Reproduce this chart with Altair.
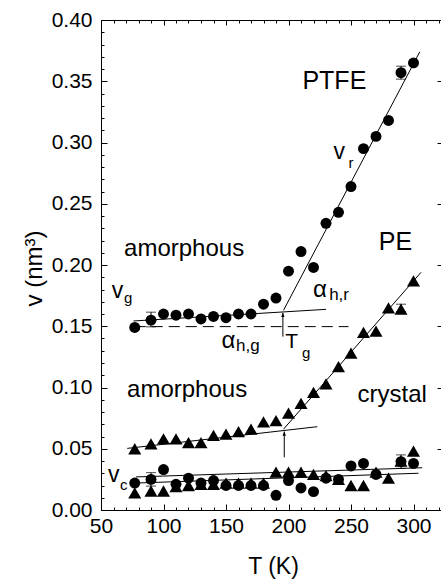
import altair as alt
import pandas as pd

F = "Liberation Sans"

# ---------------- data ----------------
T_PTFE = [77, 90, 100, 110, 120, 130, 140, 150, 160, 170, 180, 190, 200, 210, 220, 230, 240, 250, 260, 270, 280, 290, 300]
V_PTFE = [0.149, 0.155, 0.160, 0.159, 0.160, 0.156, 0.158, 0.157, 0.160, 0.160, 0.168, 0.173, 0.195, 0.211,
          0.198, 0.234, 0.243, 0.264, 0.295, 0.305, 0.318, 0.357, 0.365]

T_PE = [77, 90, 100, 110, 120, 130, 140, 150, 160, 170, 180, 190, 200, 210, 220, 230, 240, 250, 260, 270, 280, 290, 300]
V_PE = [0.050, 0.054, 0.058, 0.058, 0.055, 0.055, 0.061, 0.062, 0.064, 0.066, 0.072, 0.073, 0.079, 0.087,
        0.096, 0.103, 0.117, 0.128, 0.145, 0.146, 0.165, 0.164, 0.187]

T_CR_C = [77, 90, 100, 110, 120, 130, 140, 150, 160, 170, 180, 190, 200, 210, 220, 230, 240, 250, 260, 270, 290, 300]
V_CR_C = [0.022, 0.025, 0.033, 0.021, 0.026, 0.022, 0.024, 0.020, 0.020, 0.020, 0.020, 0.012, 0.024, 0.018,
          0.015, 0.026, 0.025, 0.036, 0.038, 0.029, 0.0395, 0.038]

T_CR_T = [77, 90, 100, 110, 120, 130, 140, 150, 160, 170, 180, 190, 200, 210, 220, 230, 240, 250, 260, 270, 280, 290, 300]
V_CR_T = [0.014, 0.0155, 0.0155, 0.019, 0.020, 0.021, 0.021, 0.022, 0.022, 0.022, 0.022, 0.031, 0.031, 0.031,
          0.029, 0.028, 0.025, 0.020, 0.020, 0.031, 0.026, 0.040, 0.048]

# error bars
ERR_T = [90, 290, 90, 290, 290]
ERR_LO = [0.1495, 0.3517, 0.0195, 0.034, 0.162]
ERR_HI = [0.1615, 0.3623, 0.0305, 0.045, 0.168]

# fit lines (start / end)
FIT_T1 = [76, 196, 71, 196, 78, 78]
FIT_V1 = [0.1543, 0.163, 0.0503, 0.066, 0.027, 0.022]
FIT_T2 = [230, 305, 223, 306, 307, 304]
FIT_V2 = [0.1638, 0.374, 0.068, 0.194, 0.0345, 0.030]

# dashed reference line
DASH_T1 = [77]
DASH_T2 = [248]
DASH_V = [0.1497]

# Tg arrows
ARROW_T = [195.5, 196.6]
ARROW_V1 = [0.1415, 0.043]
ARROW_V2 = [0.161, 0.064]

# axis ticks
X_MAJOR = [50, 100, 150, 200, 250, 300]
X_MINOR = list(range(50, 330, 10))
Y_MAJOR = [0.0, 0.05, 0.10, 0.15, 0.20, 0.25, 0.30, 0.35, 0.40]
Y_MINOR = [round(i * 0.01, 2) for i in range(0, 41)]

# annotations
LBL_BIG = ["PTFE", "PE"]
LBL_BIG_T = [236.7, 285.6]
LBL_BIG_V = [0.3437, 0.2122]

LBL_MID = ["amorphous", "amorphous", "crystal"]
LBL_MID_T = [116.5, 118.9, 283.0]
LBL_MID_V = [0.2073, 0.0925, 0.0884]

LBL_V = ["v", "v", "v"]
LBL_V_T = [235.9, 58.6, 55.6]
LBL_V_V = [0.2865, 0.1733, 0.0231]

LBL_ALPHA = ["α", "α"]
LBL_ALPHA_T = [219.6, 146.4]
LBL_ALPHA_V = [0.1741, 0.1322]

LBL_SYM = ["T"]
LBL_SYM_T = [197.4]
LBL_SYM_V = [0.1322]

LBL_SUB = ["r", "g", "g", "c"]
LBL_SUB_T = [247.9, 68.4, 210.8, 65.2]
LBL_SUB_V = [0.2792, 0.169, 0.124, 0.0163]

LBL_SUB2 = ["h,r", "h,g"]
LBL_SUB2_T = [232.5, 158.0]
LBL_SUB2_V = [0.1714, 0.1298]

# ---------------- chart ----------------
xs = alt.Scale(domain=[50, 322], nice=False, zero=False)
ys = alt.Scale(domain=[0, 0.4], nice=False, zero=False)


def tick_axis(values, size, orient):
    return alt.Axis(values=values, labels=False, domain=False, grid=False, ticks=True,
                    tickSize=size, offset=-size, tickColor="black", tickWidth=1,
                    orient=orient, title=None)


main_x = alt.Axis(values=X_MAJOR, orient="bottom", labelFontSize=21, labelFont=F, labelColor="black",
                  ticks=False, tickSize=0, domain=False, grid=False, labelPadding=5, labelOverlap=False,
                  labelFlush=False,
                  title="T (K)", titleFontSize=23, titleFont=F, titleFontWeight="normal", titleColor="black",
                  titleBaseline="alphabetic", titleAlign="center", titleX=172, titleY=63)
main_y = alt.Axis(values=Y_MAJOR, orient="left", format=".2f", labelFontSize=21, labelFont=F,
                  labelColor="black", ticks=False, tickSize=0, domain=False, grid=False, labelPadding=9,
                  labelOverlap=False, labelFlush=False,
                  title="v (nm³)", titleFontSize=24, titleFont=F, titleFontWeight="normal", titleColor="black",
                  titleBaseline="alphabetic", titleAlign="center", titleAngle=270, titleX=-60, titleY=248)

df_ptfe = pd.DataFrame({"T": T_PTFE, "v": V_PTFE})
df_pe = pd.DataFrame({"T": T_PE, "v": V_PE})
df_crc = pd.DataFrame({"T": T_CR_C, "v": V_CR_C})
df_crt = pd.DataFrame({"T": T_CR_T, "v": V_CR_T})

ptfe = alt.Chart(df_ptfe).mark_point(shape="circle", filled=True, color="black", opacity=1, size=120).encode(
    x=alt.X("T:Q", scale=xs, axis=main_x), y=alt.Y("v:Q", scale=ys, axis=main_y))
pe = alt.Chart(df_pe).mark_point(shape="triangle-up", filled=True, color="black", opacity=1, size=170).encode(
    x=alt.X("T:Q", scale=xs, axis=tick_axis(X_MAJOR, 6, "bottom")),
    y=alt.Y("v:Q", scale=ys, axis=tick_axis(Y_MAJOR, 6, "left")))
crc = alt.Chart(df_crc).mark_point(shape="circle", filled=True, color="black", opacity=1, size=120).encode(
    x=alt.X("T:Q", scale=xs, axis=tick_axis(X_MINOR, 3, "bottom")),
    y=alt.Y("v:Q", scale=ys, axis=tick_axis(Y_MINOR, 3, "left")))
crt = alt.Chart(df_crt).mark_point(shape="triangle-up", filled=True, color="black", opacity=1, size=170).encode(
    x=alt.X("T:Q", scale=xs, axis=tick_axis(X_MAJOR, 5, "top")),
    y=alt.Y("v:Q", scale=ys, axis=tick_axis(Y_MAJOR, 4, "right")))

df_err = pd.DataFrame({"T": ERR_T, "lo": ERR_LO, "hi": ERR_HI})
err = alt.Chart(df_err).mark_rule(color="black", strokeWidth=1).encode(
    x=alt.X("T:Q", scale=xs, axis=tick_axis(X_MINOR, 3, "top")),
    y=alt.Y("lo:Q", scale=ys, axis=None), y2="hi:Q")
df_caps = pd.DataFrame({"T": ERR_T + ERR_T, "v": ERR_LO + ERR_HI})
caps = alt.Chart(df_caps).mark_tick(orient="horizontal", color="black", thickness=1, size=10).encode(
    x=alt.X("T:Q", scale=xs, axis=None), y=alt.Y("v:Q", scale=ys, axis=None))

df_fit = pd.DataFrame({"T1": FIT_T1, "v1": FIT_V1, "T2": FIT_T2, "v2": FIT_V2})
fits = alt.Chart(df_fit).mark_rule(color="black", strokeWidth=1).encode(
    x=alt.X("T1:Q", scale=xs, axis=None), x2="T2:Q",
    y=alt.Y("v1:Q", scale=ys, axis=None), y2="v2:Q")

df_dash = pd.DataFrame({"T1": DASH_T1, "T2": DASH_T2, "v": DASH_V})
dash = alt.Chart(df_dash).mark_rule(color="black", strokeWidth=1, strokeDash=[11, 6]).encode(
    x=alt.X("T1:Q", scale=xs, axis=None), x2="T2:Q",
    y=alt.Y("v:Q", scale=ys, axis=None))

df_arr = pd.DataFrame({"T": ARROW_T, "v1": ARROW_V1, "v2": ARROW_V2})
arrows = alt.Chart(df_arr).mark_rule(color="black", strokeWidth=1).encode(
    x=alt.X("T:Q", scale=xs, axis=None), y=alt.Y("v1:Q", scale=ys, axis=None), y2="v2:Q")
heads = alt.Chart(df_arr).mark_point(shape="M0,0L-0.4,1L0.4,1Z", filled=True, color="black", opacity=1,
                                     size=70).encode(
    x=alt.X("T:Q", scale=xs, axis=None), y=alt.Y("v2:Q", scale=ys, axis=None))


def text_layer(labels, ts, vs, size, align):
    d = pd.DataFrame({"T": ts, "v": vs, "label": labels})
    return alt.Chart(d).mark_text(align=align, baseline="alphabetic", fontSize=size, font=F,
                                  color="black").encode(
        x=alt.X("T:Q", scale=xs, axis=None), y=alt.Y("v:Q", scale=ys, axis=None), text="label:N")


t_big = text_layer(LBL_BIG, LBL_BIG_T, LBL_BIG_V, 25, "center")
t_mid = text_layer(LBL_MID, LBL_MID_T, LBL_MID_V, 24, "center")
t_v = text_layer(LBL_V, LBL_V_T, LBL_V_V, 23, "left")
t_alpha = text_layer(LBL_ALPHA, LBL_ALPHA_T, LBL_ALPHA_V, 24, "left")
t_sym = text_layer(LBL_SYM, LBL_SYM_T, LBL_SYM_V, 21, "left")
t_sub = text_layer(LBL_SUB, LBL_SUB_T, LBL_SUB_V, 15, "left")
t_sub2 = text_layer(LBL_SUB2, LBL_SUB2_T, LBL_SUB2_V, 17, "left")

chart = alt.layer(
    ptfe, pe, crc, crt, err, caps, fits, dash, arrows, heads,
    t_big, t_mid, t_v, t_alpha, t_sym, t_sub, t_sub2
).resolve_axis(x="independent", y="independent").properties(
    width=340, height=490,
    autosize=alt.AutoSizeParams(type="none"),
    padding={"left": 101, "top": 20, "right": 0, "bottom": 69},
    background="white",
).configure_view(stroke="black", strokeWidth=1)

chart.save("out.html", embed_options={"renderer": "svg", "actions": False})
